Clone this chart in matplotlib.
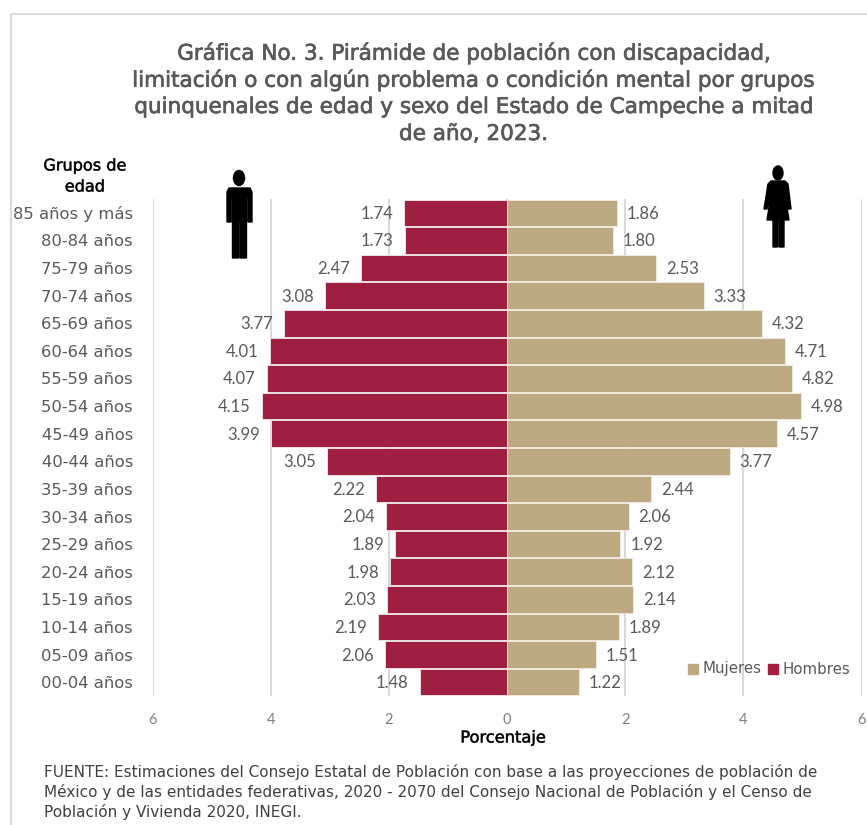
"""Population pyramid, Campeche 2023."""

import matplotlib

matplotlib.use("Agg")
import matplotlib.patheffects as pe
import matplotlib.pyplot as plt
from matplotlib.patches import Ellipse, Polygon, Rectangle

W, H = 867, 825

groups = [
    "85 años y más", "80-84 años", "75-79 años", "70-74 años", "65-69 años",
    "60-64 años", "55-59 años", "50-54 años", "45-49 años", "40-44 años",
    "35-39 años", "30-34 años", "25-29 años", "20-24 años", "15-19 años",
    "10-14 años", "05-09 años", "00-04 años",
]
hombres = [1.74, 1.73, 2.47, 3.08, 3.77, 4.01, 4.07, 4.15, 3.99, 3.05,
           2.22, 2.04, 1.89, 1.98, 2.03, 2.19, 2.06, 1.48]
mujeres = [1.86, 1.80, 2.53, 3.33, 4.32, 4.71, 4.82, 4.98, 4.57, 3.77,
           2.44, 2.06, 1.92, 2.12, 2.14, 1.89, 1.51, 1.22]
x_ticks = [-6, -4, -2, 0, 2, 4, 6]

title_lines = [
    "Gráfica No. 3. Pirámide de población con discapacidad,",
    "limitación o con algún problema o condición mental por grupos",
    "quinquenales de edad y sexo del Estado de Campeche a mitad",
    "de año, 2023.",
]
source_lines = [
    "FUENTE: Estimaciones del Consejo Estatal de Población con base a las proyecciones de población de",
    "México y de las entidades federativas, 2020 - 2070 del Consejo Nacional de Población y el Censo de",
    "Población y Vivienda 2020, INEGI.",
]

RED = "#9E1F3F"
TAN = "#BCA881"
GREY = "#595959"
WIDE = ["DejaVu Sans"]

plt.rcParams["font.family"] = ["Lato", "DejaVu Sans"]

fig = plt.figure(figsize=(W / 100, H / 100), dpi=100)

# overlay in pixel coordinates for the frame, icons and loose text
bg = fig.add_axes([0, 0, 1, 1], zorder=0)
bg.set_xlim(0, W)
bg.set_ylim(H, 0)
bg.axis("off")
bg.plot([11, 11, W], [H, 14, 14], color="#D9D9D9", lw=1.5, clip_on=False)

ax = fig.add_axes([152.5 / W, 1 - 696 / H, (861.5 - 152.5) / W, (696 - 199) / H], zorder=1)
ax.patch.set_alpha(0)
y = list(range(len(groups)))
ax.barh(y, [-v for v in hombres], height=0.96, color=RED, edgecolor="#F3ECEC", lw=0.6, zorder=2)
ax.barh(y, mujeres, height=0.96, color=TAN, edgecolor="#F3EEE4", lw=0.6, zorder=2)
ax.set_ylim(len(groups) - 0.5, -0.5)
ax.set_xlim(-6, 6)
ax.set_xticks(x_ticks)
ax.set_xticklabels([abs(t) for t in x_ticks], color="#7F7F7F", fontsize=10.5)
ax.set_yticks(y)
ax.set_yticklabels(groups, color=GREY, fontsize=11.8, family=WIDE)
ax.tick_params(length=0)
ax.tick_params(axis="x", pad=12)
ax.tick_params(axis="y", pad=14)
for s in ax.spines.values():
    s.set_visible(False)
ax.set_axisbelow(True)
ax.grid(axis="x", color="#D9D9D9", lw=1.5, zorder=0)

for i in y:
    ax.annotate(f"{hombres[i]:.2f}", (-hombres[i], i), xytext=(-8, -0.7), textcoords="offset points",
                ha="right", va="center", color=GREY, fontsize=12, zorder=3)
    ax.annotate(f"{mujeres[i]:.2f}", (mujeres[i], i), xytext=(7, -0.7), textcoords="offset points",
                ha="left", va="center", color=GREY, fontsize=12, zorder=3)

# legend
top = fig.add_axes([0, 0, 1, 1], zorder=2)
top.set_xlim(0, W)
top.set_ylim(H, 0)
top.axis("off")
top.add_patch(Rectangle((688, 664), 10, 10, color=TAN))
top.add_patch(Rectangle((768, 664), 10, 10, color=RED))
top.text(703, 669, "Mujeres", color=GREY, fontsize=10.8, va="center", ha="left", family=WIDE)
top.text(782, 669, "Hombres", color=GREY, fontsize=10.8, va="center", ha="left", family=WIDE)

# man icon
top.add_patch(Ellipse((239, 178), 11, 15, color="black"))
top.add_patch(Polygon([(229, 188), (250, 188), (252, 192), (252, 222), (248, 222), (248, 198),
                       (246.5, 198), (246.5, 258), (240, 258), (240, 222), (238.5, 222), (238.5, 258),
                       (232.5, 258), (232.5, 198), (231, 198), (231, 222), (227, 222), (227, 192)],
                      color="black"))
# woman icon
top.add_patch(Ellipse((778, 173), 10, 14, color="black"))
top.add_patch(Polygon([(771, 181), (785, 181), (788, 184), (791, 209), (788, 209), (784.5, 192),
                       (789, 220), (784, 220), (784, 247), (779, 247), (779, 220), (777.5, 220),
                       (777.5, 247), (773, 247), (773, 220), (767, 220), (771.5, 192), (767, 209),
                       (764, 209), (768, 184)],
                      color="black"))

# title
stroke = [pe.withStroke(linewidth=0.5, foreground=GREY)]
for line, ty in zip(title_lines, [53, 80, 107, 134]):
    top.text(473.5, ty, line, ha="center", va="center", color=GREY, fontsize=15.5,
             family=WIDE, path_effects=stroke)

top.text(85, 166, "Grupos de", ha="center", va="center", color="black", fontsize=11.6,
         family=WIDE, path_effects=stroke)
top.text(85, 187, "edad", ha="center", va="center", color="black", fontsize=11.6,
         family=WIDE, path_effects=stroke)
top.text(503, 738, "Porcentaje", ha="center", va="center", color="black", fontsize=11.7,
         family=WIDE, path_effects=stroke)

for line, ty in zip(source_lines, [772, 792, 812]):
    top.text(44, ty, line, ha="left", va="center", color="#404040", fontsize=11, family=WIDE)

fig.savefig("out.png", dpi=100)
